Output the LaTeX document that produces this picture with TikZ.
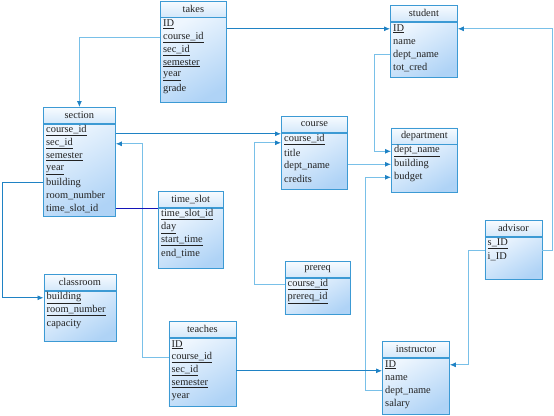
\documentclass[tikz,border=0pt]{standalone}
\usepackage{fontspec}
\setmainfont{Liberation Serif}
\newfontfamily\erfont{Liberation Serif}
\usetikzlibrary{calc,arrows.meta}

\definecolor{boxline}{HTML}{3C9AD4}
\definecolor{headtop}{HTML}{F7FBFF}
\definecolor{headbot}{HTML}{D4E8FA}
\definecolor{bodytop}{HTML}{EEF6FE}
\definecolor{bodybot}{HTML}{AFD3F6}
\definecolor{linkdark}{HTML}{1F82C4}
\definecolor{linklight}{HTML}{79C0E8}
\definecolor{linknavy}{HTML}{1414B8}
\definecolor{fieldtext}{HTML}{222222}

\tikzset{
  tabhead/.style={draw=boxline, line width=0.8pt, anchor=north west, minimum height=16pt,
    inner sep=0pt, top color=headtop, bottom color=headbot, text=fieldtext,
    font=\erfont\fontsize{10.4}{12}\selectfont},
  tabbody/.style={draw=boxline, line width=0.8pt, anchor=north west, inner sep=0pt,
    top color=bodytop, bottom color=bodybot, shading angle=30},
  tabrow/.style={anchor=west, inner xsep=3pt, inner ysep=0pt, text=fieldtext,
    font=\erfont\fontsize{10.4}{12}\selectfont},
  fk/.style={draw=linklight, line width=0.8pt, -{Latex[length=6pt,width=5pt,color=linkdark]}},
  fkdark/.style={fk, draw=linkdark},
}

% name, title, x, y, width, body height, fields
\newcommand{\ertable}[7]{%
  \node[tabhead, minimum width=#5] (#1) at (#3,#4) {#2};
  \node[tabbody, minimum width=#5, minimum height=#6] (#1-b) at (#1.south west) {};
  \foreach \fld [count=\i] in {#7}
    \node[tabrow] (#1-\i) at ($(#1.south west)+(0,{7+13*(\i-1)})$) {\fld};
}

\begin{document}
\begin{tikzpicture}[x=1pt, y=-1pt]
  \useasboundingbox (0,0) rectangle (554,415);

  \ertable{takes}{takes}{160}{0.5}{66}{85}{\underline{ID}, \underline{course\_id}, \underline{sec\_id}, \underline{semester}, \underline{year}, grade}
  \ertable{student}{student}{390}{5}{67}{55}{\underline{ID}, name, dept\_name, tot\_cred}
  \ertable{section}{section}{43}{107}{72}{92}{\underline{course\_id}, \underline{sec\_id}, \underline{semester}, \underline{year}, building, room\_number, time\_slot\_id}
  \ertable{course}{course}{281}{116}{66}{56}{\underline{course\_id}, title, dept\_name, credits}
  \ertable{department}{department}{391}{127.5}{66}{47.5}{\underline{dept\_name}, building, budget}
  \ertable{timeslot}{time\_slot}{158}{191}{64.5}{60}{\underline{time\_slot\_id}, \underline{day}, \underline{start\_time}, end\_time}
  \ertable{classroom}{classroom}{43.5}{274}{72}{50}{\underline{building}, \underline{room\_number}, capacity}
  \ertable{prereq}{prereq}{284.5}{261}{65.5}{36}{\underline{course\_id}, \underline{prereq\_id}}
  \ertable{teaches}{teaches}{168.5}{321}{67}{68}{\underline{ID}, \underline{course\_id}, \underline{sec\_id}, \underline{semester}, year}
  \ertable{instructor}{instructor}{382}{341}{67}{56}{\underline{ID}, name, dept\_name, salary}
  \ertable{advisor}{advisor}{484.5}{220}{57}{42}{\underline{s\_ID}, i\_ID}

  \coordinate (crs-in) at ([yshift=6pt]course-1.west);
  \coordinate (pre-in) at ([yshift=-3pt]course-1.west);
  \coordinate (adv-mid) at ($(advisor-1.west)!0.5!(advisor-2.west)$);

  \draw[fkdark] (takes-b.east |- student-1) -- (student-1.west);
  \draw[fk] (takes-2.west) -| (section.north);
  \draw[fk] (student-3.west) -- ++(-16,0) |- (department-1.west);
  \draw[fkdark] (section-b.east |- crs-in) -- (crs-in);
  \draw[fk] (teaches-2.west) -- ++(-26,0) |- (section-b.east |- section-2);
  \draw[draw=linknavy, line width=0.8pt] (section-b.east |- section-7) -- (timeslot-b.west |- section-7);
  \draw[fkdark] (section-5.west) -- ++(-41,0) |- (classroom-1.west);
  \draw[fk] (course-b.east |- department-2) -- (department-2.west);
  \draw[fk] (instructor-3.west) -- ++(-17,0) |- (department-3.west);
  \draw[fk] (prereq-1.west) -- ++(-30,0) |- (pre-in);
  \draw[fkdark] (teaches-b.east |- teaches-3) -- (instructor-b.west |- teaches-3);
  \draw[fk] (advisor-b.east |- adv-mid) -- ++(10.5,0) |- (student-b.east |- student-1);
  \draw[fk] (adv-mid) -- ++(-16.5,0) |- (instructor-b.east |- instructor-1);
\end{tikzpicture}
\end{document}
